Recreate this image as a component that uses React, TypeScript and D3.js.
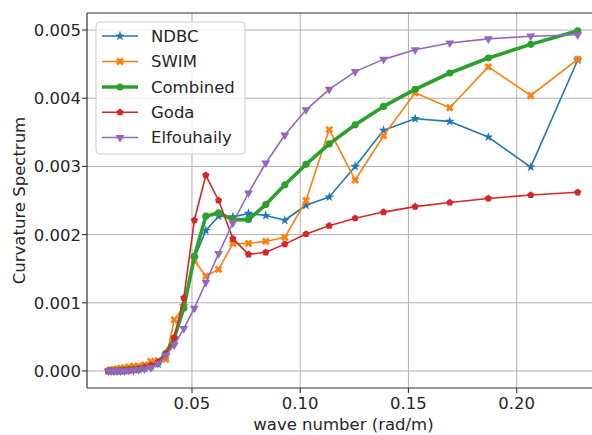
import React from "react";
import * as d3 from "d3";

// wave number bins (rad/m)
const waveNumber = [
  0.0114, 0.0126, 0.014, 0.0154, 0.017, 0.0188, 0.0208, 0.023, 0.0254, 0.0281,
  0.031, 0.0343, 0.0379, 0.0418, 0.0462, 0.0511, 0.0564, 0.0623, 0.0689,
  0.0761, 0.0841, 0.0929, 0.1027, 0.1134, 0.1254, 0.1385, 0.1531, 0.1691,
  0.1869, 0.2065, 0.2282,
];

const ndbc = [
  0, 0, 0, 0, 0, 0, 0.00001, 0.00002, 0.00002, 0.00004, 0.00006, 0.0001,
  0.00022, 0.00045, 0.00095, 0.00165, 0.00206, 0.00227, 0.00226, 0.00231,
  0.00228, 0.00221, 0.00243, 0.00255, 0.003, 0.00353, 0.0037, 0.00366,
  0.00343, 0.00299, 0.00456,
];

const swim = [
  0, 0.00001, 0.00002, 0.00003, 0.00004, 0.00005, 0.00006, 0.00007, 0.00007,
  0.00009, 0.00014, 0.00015, 0.00017, 0.00075, 0.00094, 0.00162, 0.00139,
  0.00149, 0.00187, 0.00187, 0.0019, 0.00196, 0.0025, 0.00354, 0.0028,
  0.00345, 0.00408, 0.00386, 0.00446, 0.00404, 0.00457,
];

const combined = [
  0, 0, 0, 0, 0.00001, 0.00001, 0.00002, 0.00002, 0.00003, 0.00005, 0.00007,
  0.00012, 0.00026, 0.00048, 0.00092, 0.00168, 0.00227, 0.00232, 0.00222,
  0.00222, 0.00244, 0.00273, 0.00303, 0.00333, 0.00361, 0.00388, 0.00413,
  0.00437, 0.00459, 0.00479, 0.00499,
];

const goda = [
  0, 0, 0, 0, 0, 0.00001, 0.00001, 0.00002, 0.00003, 0.00005, 0.00008,
  0.00013, 0.00025, 0.00049, 0.00107, 0.00221, 0.00287, 0.0025, 0.00194,
  0.00171, 0.00174, 0.00186, 0.00201, 0.00213, 0.00224, 0.00233, 0.00241,
  0.00247, 0.00253, 0.00258, 0.00262,
];

const elfouhaily = [
  0, 0, 0, 0, 0, 0, 0.00001, 0.00001, 0.00002, 0.00003, 0.00005, 0.00011,
  0.00023, 0.00038, 0.00062, 0.00092, 0.0013, 0.00172, 0.00217, 0.00261,
  0.00305, 0.00346, 0.00383, 0.00413, 0.00439, 0.00457, 0.00471, 0.00481,
  0.00487, 0.00491, 0.00493,
];

const xTicks = [0.05, 0.1, 0.15, 0.2];
const yTicks = [0, 0.001, 0.002, 0.003, 0.004, 0.005];

// matplotlib style pentagon marker
const symbolPentagon = {
  draw(context, size) {
    const r = Math.sqrt(size / 2.3776);
    for (let i = 0; i < 5; i++) {
      const a = (i * 2 * Math.PI) / 5;
      const px = r * Math.sin(a);
      const py = -r * Math.cos(a);
      if (i === 0) context.moveTo(px, py);
      else context.lineTo(px, py);
    }
    context.closePath();
  },
};

const series = [
  { name: "NDBC", values: ndbc, color: "#1f77b4", width: 1.6, symbol: d3.symbolStar, size: 30, rotate: 0 },
  { name: "SWIM", values: swim, color: "#ff7f0e", width: 1.6, symbol: d3.symbolCross, size: 38, rotate: 45 },
  { name: "Combined", values: combined, color: "#2ca02c", width: 3.6, symbol: d3.symbolCircle, size: 40, rotate: 0 },
  { name: "Goda", values: goda, color: "#d62728", width: 1.6, symbol: symbolPentagon, size: 34, rotate: 0 },
  { name: "Elfouhaily", values: elfouhaily, color: "#9467bd", width: 1.6, symbol: d3.symbolTriangle, size: 34, rotate: 180 },
];

const W = 592;
const H = 435;
const margin = { left: 87, top: 13, right: 600, bottom: 388 };
const font = "DejaVu Sans, sans-serif";

export default function App() {
  const x = d3.scaleLinear().domain([0.0015, 0.2385]).range([margin.left, margin.right]);
  const y = d3.scaleLinear().domain([-0.00025, 0.00525]).range([margin.bottom, margin.top]);

  const line = d3
    .line<number>()
    .x((d, i) => x(waveNumber[i]))
    .y((d) => y(d));

  const legendY = [36, 61.5, 87, 112.3, 137.5];

  return (
    <svg
      width={W}
      height={H}
      style={{ position: "absolute", left: 0, top: 0, background: "#fff" }}
      fontFamily={font}
    >
      <defs>
        <clipPath id="plotClip">
          <rect x={margin.left} y={margin.top} width={margin.right - margin.left} height={margin.bottom - margin.top} />
        </clipPath>
      </defs>

      {/* grid */}
      {xTicks.map((t) => (
        <line key={"gx" + t} x1={x(t)} x2={x(t)} y1={margin.top} y2={margin.bottom} stroke="#b0b0b0" strokeWidth={1} />
      ))}
      {yTicks.map((t) => (
        <line key={"gy" + t} x1={margin.left} x2={margin.right} y1={y(t)} y2={y(t)} stroke="#b0b0b0" strokeWidth={1} />
      ))}

      {/* series */}
      <g clipPath="url(#plotClip)">
        {series.map((s) => (
          <g key={s.name}>
            <path d={line(s.values) || ""} fill="none" stroke={s.color} strokeWidth={s.width} strokeLinejoin="round" />
            {s.values.map((v, i) => (
              <path
                key={i}
                d={d3.symbol().type(s.symbol).size(s.size)() || ""}
                transform={`translate(${x(waveNumber[i])},${y(v)}) rotate(${s.rotate})`}
                fill={s.color}
              />
            ))}
          </g>
        ))}
      </g>

      {/* spines */}
      <line x1={margin.left} x2={margin.left} y1={margin.top} y2={margin.bottom} stroke="#333" strokeWidth={1.2} />
      <line x1={margin.left} x2={W} y1={margin.bottom} y2={margin.bottom} stroke="#333" strokeWidth={1.2} />
      <line x1={margin.left} x2={W} y1={margin.top} y2={margin.top} stroke="#333" strokeWidth={1.2} />

      {/* x ticks */}
      {xTicks.map((t) => (
        <g key={"xt" + t}>
          <line x1={x(t)} x2={x(t)} y1={margin.bottom} y2={margin.bottom + 5} stroke="#333" strokeWidth={1.1} />
          <text x={x(t)} y={408.5} textAnchor="middle" fontSize={16.5} fill="#262626">
            {d3.format(".2f")(t)}
          </text>
        </g>
      ))}
      {/* y ticks */}
      {yTicks.map((t) => (
        <g key={"yt" + t}>
          <line x1={margin.left - 5} x2={margin.left} y1={y(t)} y2={y(t)} stroke="#333" strokeWidth={1.1} />
          <text x={margin.left - 6} y={y(t)} dy="0.36em" textAnchor="end" fontSize={16.5} fill="#262626">
            {d3.format(".3f")(t)}
          </text>
        </g>
      ))}

      {/* axis labels */}
      <text x={343.5} y={430} textAnchor="middle" fontSize={16.5} fill="#262626">
        wave number (rad/m)
      </text>
      <text transform={`translate(25,${(margin.top + margin.bottom) / 2}) rotate(-90)`} textAnchor="middle" fontSize={16.5} fill="#262626">
        Curvature Spectrum
      </text>

      {/* legend */}
      <rect x={96} y={22} width={149} height={132} rx={4} fill="#fff" fillOpacity={0.8} stroke="#cccccc" strokeWidth={1} />
      {series.map((s, i) => (
        <g key={"lg" + s.name}>
          <line x1={102} x2={138} y1={legendY[i]} y2={legendY[i]} stroke={s.color} strokeWidth={s.width} />
          <path
            d={d3.symbol().type(s.symbol).size(s.size)() || ""}
            transform={`translate(120,${legendY[i]}) rotate(${s.rotate})`}
            fill={s.color}
          />
          <text x={151} y={legendY[i]} dy="0.36em" fontSize={16.5} fill="#262626">
            {s.name}
          </text>
        </g>
      ))}
    </svg>
  );
}
